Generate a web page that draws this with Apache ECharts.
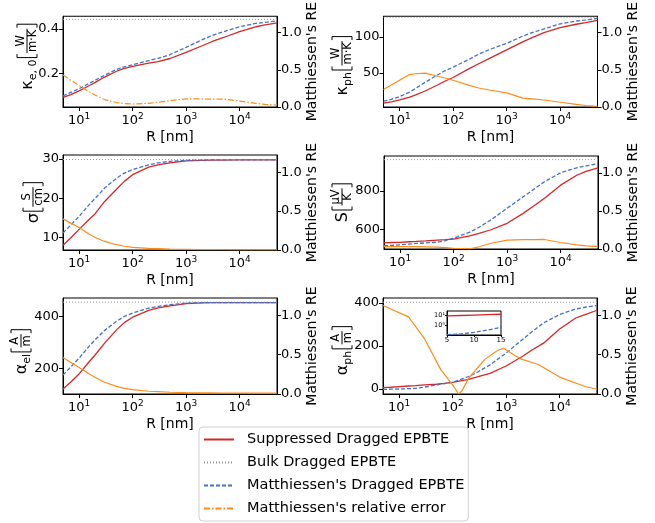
<!DOCTYPE html>
<html>
<head>
<meta charset="utf-8">
<script src="https://cdn.jsdelivr.net/npm/echarts@6/dist/echarts.min.js"></script>
<style>html,body{margin:0;padding:0;background:#fff}#chart{width:655px;height:523px}</style>
</head>
<body>
<div id="chart"></div>
<script>
// grain size axis shared by all panels
const R = [5, 7, 10, 15, 20, 30, 50, 70, 100, 200, 300, 500, 1000, 2000, 3000, 5000, 10000, 20000, 30000, 50000];

const kapE_sup = [0.094, 0.106, 0.123, 0.145, 0.161, 0.185, 0.211, 0.224, 0.233, 0.247, 0.254, 0.268, 0.295, 0.325, 0.343, 0.362, 0.388, 0.410, 0.418, 0.427];
const kapE_mat = [0.101, 0.116, 0.133, 0.155, 0.171, 0.193, 0.219, 0.231, 0.240, 0.258, 0.269, 0.285, 0.318, 0.352, 0.370, 0.388, 0.410, 0.425, 0.430, 0.436];
const kapE_re = [0.43, 0.36, 0.29, 0.21, 0.16, 0.10, 0.06, 0.045, 0.04, 0.05, 0.064, 0.085, 0.11, 0.108, 0.106, 0.107, 0.08, 0.05, 0.035, 0.025];
const kapE_bulk = 0.443;

const kapPh_sup = [8.3, 10, 12.7, 16, 19.5, 25, 33, 38.5, 43.7, 56, 62.7, 71, 81.9, 93, 99, 106, 112.7, 117.5, 119.8, 122.8];
const kapPh_mat = [10.5, 13.5, 17.3, 23, 28.6, 37, 46.8, 53, 58, 69, 76, 83, 91, 101, 106, 111, 118, 122, 123.5, 125.5];
const kapPh_re = [0.234, null, null, 0.434, 0.447, 0.455, 0.417, 0.39, 0.36, 0.29, 0.255, 0.225, 0.19, 0.119, 0.108, 0.094, 0.064, 0.035, 0.02, 0.009];
const kapPh_bulk = 127;

const sig_sup = [8.1, 10, 12.1, 14.5, 16.1, 19.2, 22.3, 24.3, 26.0, 27.9, 28.5, 29.0, 29.5, 29.65, 29.7, 29.72, 29.75, 29.75, 29.75, 29.75];
const sig_mat = [11.2, 13.2, 15.4, 18.2, 20, 22.6, 25.1, 26.4, 27.3, 28.5, 29.0, 29.4, 29.65, 29.72, 29.75, 29.75, 29.75, 29.75, 29.75, 29.75];
const sig_re = [0.40, 0.345, 0.29, 0.21, 0.16, 0.11, 0.068, 0.048, 0.034, 0.02, 0.017, 0.012, 0.008, 0.005, 0.004, 0.003, 0.002, 0.002, 0.001, 0.001];
const sig_bulk = 29.85;

const See_sup = [528, 530, 531, 534, 536, 539, 543, 545, 548, 565, 578, 597, 631, 683, 718, 762, 831, 883, 903, 922];
const See_mat = [513, 515, 518, 522, 525, 528, 532, 540, 553, 584, 610, 649, 710, 770, 805, 849, 896, 922, 932, 944];
const See_re = [0.03, 0.03, 0.03, 0.03, 0.03, 0.028, 0.025, 0.018, 0.01, 0.002, 0.03, 0.075, 0.117, 0.122, 0.124, 0.125, 0.085, 0.055, 0.04, 0.03];
const See_bulk = 965;

const aEl_sup = [120, 147, 178, 222, 252, 297, 348, 376, 397, 423, 433, 441, 449, 452, 453, 453, 453, 453, 453, 453];
const aEl_mat = [174, 205, 239, 282, 310, 346, 381, 400, 413, 432, 439, 445, 451, 453, 453, 453, 453, 453, 453, 453];
const aEl_re = [0.464, 0.40, 0.338, 0.26, 0.21, 0.15, 0.097, 0.072, 0.055, 0.035, 0.03, 0.022, 0.017, 0.015, 0.014, 0.013, 0.013, 0.012, 0.012, 0.012];
const aEl_bulk = 455;

const aPh_sup = [6, 8, 11, 14, 16, 19, 22, 26, 31, 45, 57, 73, 107, 151, 180, 213, 279, 330, 346, 366];
const aPh_mat = [-2, -1, 0, 1.5, 3, 9, 19, 25, 31, 58, 80, 112, 167, 229, 265, 307, 346, 372, 380, 388];
const aPh_reR = [5, 15, 30, 60, 100, 130, 150, 200, 400, 700, 900, 1500, 2000, 4000, 10000, 30000, 50000];
const aPh_re = [1.125, 0.98, 0.70, 0.31, 0.116, 0, 0.043, 0.2, 0.44, 0.556, 0.58, 0.483, 0.44, 0.375, 0.215, 0.095, 0.06];
const aPh_bulk = 403;

// inset (symlog y)
const inR = [5, 7.5, 10, 12.5, 15];
const inSup = [8.5, 9.4, 10.4, 11.5, 12.6];
const inMat = [-1.07, -0.91, -0.57, -0.06, 0.49];

const names = ['Suppressed Dragged EPBTE', 'Bulk Dragged EPBTE', "Matthiessen's Dragged EPBTE", "Matthiessen's relative error"];
const FONT = 'DejaVu Sans';
const RED = '#d62728', BLUE = '#4472c4', ORANGE = '#ff8c1a', GRAY = '#999999';

const panels = [
  {grid: [63, 13, 214, 94], ymin: 0.051, ymax: 0.457, ticks: [0.2, 0.4], sup: kapE_sup, mat: kapE_mat, re: kapE_re, reR: R, bulk: kapE_bulk, reDash: true,
   title: [27, 57, 'κ', 'e, 0', 'W', 'm·K']},
  {grid: [383.5, 15, 214, 92], ymin: 2.8, ymax: 128.6, ticks: [50, 100], sup: kapPh_sup, mat: kapPh_mat, re: kapPh_re, reR: R, bulk: kapPh_bulk,
   title: [342, 66, 'κ', 'ph', 'W', 'm·K']},
  {grid: [63, 155, 214, 95], ymin: 6.87, ymax: 31.0, ticks: [10, 20, 30], sup: sig_sup, mat: sig_mat, re: sig_re, reR: R, bulk: sig_bulk,
   title: [33, 203, 'σ', '', 'S', 'cm']},
  {grid: [384, 156, 214, 93], ymin: 496, ymax: 984, ticks: [600, 800], sup: See_sup, mat: See_mat, re: See_re, reR: R, bulk: See_bulk,
   title: [342, 203, 'S', '', 'μV', 'K']},
  {grid: [63, 298, 214, 96], ymin: 100.5, ymax: 471, ticks: [200, 400], sup: aEl_sup, mat: aEl_mat, re: aEl_re, reR: R, bulk: aEl_bulk,
   title: [21, 352, 'α', 'el', 'A', 'm']},
  {grid: [383, 298, 214, 96], ymin: -23.3, ymax: 423, ticks: [0, 200, 400], sup: aPh_sup, mat: aPh_mat, re: aPh_re, reR: aPh_reR, bulk: aPh_bulk,
   title: [342, 351, 'α', 'ph', 'A', 'm']}
];

const pairs = (xs, ys) => xs.map((x, i) => [x, ys[i]]);
const LS = 0.47;
const symlog = v => Math.abs(v) <= 1 ? v * LS : Math.sign(v) * (LS + Math.log10(Math.abs(v)));

const ctx = document.createElement('canvas').getContext('2d');
function tw(t, s) { ctx.font = s + 'px "' + FONT + '"'; return ctx.measureText(t).width; }

// rotated y label like  sym_sub [num/den]
function unitTitle(cx, cy, sym, sub, num, den) {
  const fSym = 16, fSub = 11, fFrac = 11.5, h = 10, bw = 3.5;
  const wS = tw(sym, fSym), wSub = sub ? tw(sub, fSub) : 0;
  const wF = Math.max(tw(num, fFrac), tw(den, fFrac)) + 2;
  const x1 = wS + wSub + 2;
  const fx = x1 + bw + 1;
  const x2 = fx + wF + 1 + bw;
  const o = -x2 / 2;
  const txt = (t, x, y, s) => ({type: 'text', x: x + o, y: y, style: {text: t, font: s + 'px "' + FONT + '"', fill: '#000', textAlign: 'left', textVerticalAlign: 'middle'}});
  const kids = [txt(sym, 0, 1, fSym)];
  if (sub) kids.push(txt(sub, wS, 6, fSub));
  const line = pts => ({type: 'polyline', shape: {points: pts.map(p => [p[0] + o, p[1]])}, style: {stroke: '#000', lineWidth: 1, fill: null}});
  kids.push(line([[x1 + bw, -h], [x1, -h], [x1, h], [x1 + bw, h]]));
  kids.push(line([[x2 - bw, -h], [x2, -h], [x2, h], [x2 - bw, h]]));
  kids.push(line([[fx, 0], [fx + wF, 0]]));
  kids.push({type: 'text', x: fx + wF / 2 + o, y: -5.5, style: {text: num, font: fFrac + 'px "' + FONT + '"', fill: '#000', textAlign: 'center', textVerticalAlign: 'middle'}});
  kids.push({type: 'text', x: fx + wF / 2 + o, y: 6.5, style: {text: den, font: fFrac + 'px "' + FONT + '"', fill: '#000', textAlign: 'center', textVerticalAlign: 'middle'}});
  return {type: 'group', x: cx, y: cy, rotation: Math.PI / 2, children: kids};
}

const black = {color: '#000', width: 1};
const grids = [], xAxes = [], yAxes = [], series = [], graphics = [];

panels.forEach((p, i) => {
  grids.push({left: p.grid[0], top: p.grid[1], width: p.grid[2], height: p.grid[3], show: true, borderColor: '#000', borderWidth: 1, backgroundColor: 'transparent'});
  xAxes.push({
    type: 'log', logBase: 10, gridIndex: i, min: 5, max: 50000,
    axisLine: {show: true, onZero: false, lineStyle: black},
    axisTick: {show: true, length: 4, lineStyle: black, customValues: [10, 100, 1000, 10000]},
    minorTick: {show: false}, splitLine: {show: false},
    axisLabel: {
      customValues: [10, 100, 1000, 10000], margin: 5,
      formatter: v => '{b|10}{s|' + Math.round(Math.log10(v)) + '}',
      rich: {b: {fontFamily: FONT, fontSize: 13, color: '#000', padding: [2, 0, 0, 0], verticalAlign: 'bottom'},
             s: {fontFamily: FONT, fontSize: 9, color: '#000', verticalAlign: 'top'}}
    },
    name: 'R [nm]', nameLocation: 'middle', nameGap: 23,
    nameTextStyle: {fontFamily: FONT, fontSize: 14, color: '#000'}
  });
  yAxes.push({
    type: 'value', gridIndex: i, position: 'left', min: p.ymin, max: p.ymax,
    axisLine: {show: true, onZero: false, lineStyle: black},
    axisTick: {show: true, length: 4, lineStyle: black, customValues: p.ticks},
    splitLine: {show: false},
    axisLabel: {customValues: p.ticks, margin: 4, fontFamily: FONT, fontSize: 13, color: '#000'}
  });
  yAxes.push({
    type: 'value', gridIndex: i, position: 'right', min: 0, max: 1.22,
    axisLine: {show: true, onZero: false, lineStyle: black},
    axisTick: {show: true, length: 4, lineStyle: black, customValues: [0, 0.5, 1]},
    splitLine: {show: false},
    axisLabel: {customValues: [0, 0.5, 1], margin: 4, fontFamily: FONT, fontSize: 13, color: '#000', formatter: v => v.toFixed(1)},
    name: "Matthiessen's RE", nameLocation: 'middle', nameRotate: 90, nameGap: 28,
    nameTextStyle: {fontFamily: FONT, fontSize: 14, color: '#000'}
  });
  const base = {type: 'line', xAxisIndex: i, symbol: 'none', animation: false, clip: true};
  series.push(Object.assign({}, base, {name: names[0], yAxisIndex: 2 * i, data: pairs(R, p.sup), lineStyle: {color: RED, width: 1.3}, itemStyle: {color: RED}}));
  series.push(Object.assign({}, base, {name: names[1], yAxisIndex: 2 * i, data: [[5, p.bulk], [50000, p.bulk]], lineStyle: {color: GRAY, width: 1, type: [1, 2]}, itemStyle: {color: GRAY}}));
  series.push(Object.assign({}, base, {name: names[2], yAxisIndex: 2 * i, data: pairs(R, p.mat), lineStyle: {color: BLUE, width: 1.3, type: [4, 2]}, itemStyle: {color: BLUE}}));
  series.push(Object.assign({}, base, {name: names[3], yAxisIndex: 2 * i + 1, data: pairs(p.reR, p.re), connectNulls: true,
    lineStyle: {color: ORANGE, width: 1.2, type: p.reDash ? [6, 2, 1.5, 2] : 'solid'}, itemStyle: {color: ORANGE}}));
  graphics.push(unitTitle.apply(null, p.title));
});

// inset in last panel
const gi = panels.length;
grids.push({left: 447, top: 311, width: 54, height: 24, show: true, borderColor: '#000', borderWidth: 1, backgroundColor: '#fff'});
xAxes.push({
  type: 'value', gridIndex: gi, min: 5, max: 15, interval: 5,
  axisLine: {show: true, onZero: false, lineStyle: black},
  axisTick: {length: 2, lineStyle: black}, splitLine: {show: false},
  axisLabel: {margin: 2, fontFamily: FONT, fontSize: 7, color: '#000'}
});
const inTicks = [symlog(0), symlog(1), symlog(10)];
yAxes.push({
  type: 'value', gridIndex: gi, min: -0.53, max: 1.9,
  axisLine: {show: true, onZero: false, lineStyle: black},
  axisTick: {length: 2, lineStyle: black, customValues: inTicks}, splitLine: {show: false},
  axisLabel: {customValues: inTicks, margin: 2, fontFamily: FONT, fontSize: 6.5, color: '#000', hideOverlap: false,
    formatter: v => Math.abs(v) < 0.01 ? '0' : (v < 1 ? '10⁰' : '10¹')}
});
series.push({type: 'line', xAxisIndex: gi, yAxisIndex: 2 * gi, symbol: 'none', animation: false,
  data: pairs(inR, inSup.map(symlog)), lineStyle: {color: RED, width: 1.3}, itemStyle: {color: RED}});
series.push({type: 'line', xAxisIndex: gi, yAxisIndex: 2 * gi, symbol: 'none', animation: false,
  data: pairs(inR, inMat.map(symlog)), lineStyle: {color: BLUE, width: 1.3, type: [4, 2]}, itemStyle: {color: BLUE}});

const chart = echarts.init(document.getElementById('chart'), null, {renderer: 'canvas'});
chart.setOption({
  animation: false,
  backgroundColor: '#fff',
  grid: grids, xAxis: xAxes, yAxis: yAxes, series: series,
  graphic: graphics,
  legend: {
    orient: 'vertical', left: 199, top: 427, data: names, selectedMode: false,
    itemWidth: 30, itemHeight: 12, itemGap: 8, padding: [5, 4, 5, 4],
    itemStyle: {opacity: 0},
    backgroundColor: '#fff', borderColor: '#d0d0d0', borderWidth: 1, borderRadius: 4,
    textStyle: {fontFamily: FONT, fontSize: 14.5, color: '#000', padding: [0, 0, 0, 8]}
  }
});
</script>
</body>
</html>
